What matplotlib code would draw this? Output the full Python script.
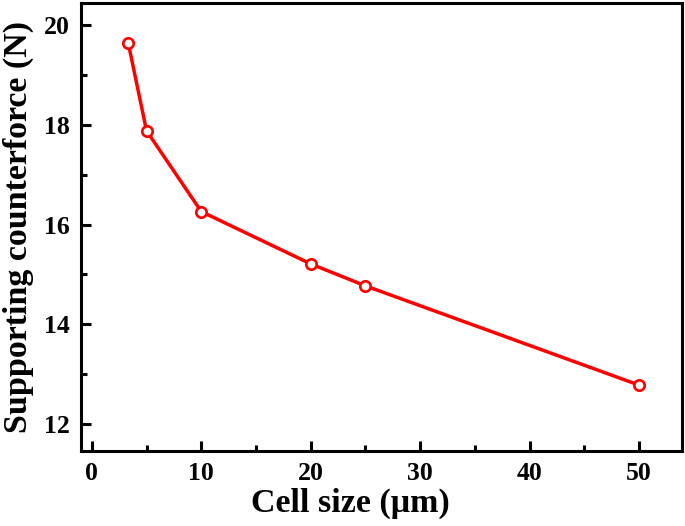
import matplotlib
matplotlib.use("Agg")
import matplotlib.pyplot as plt
from matplotlib.ticker import MultipleLocator

# data
cell_size = [3.33, 5, 10, 20, 25, 50]
counterforce = [19.64, 17.88, 16.26, 15.21, 14.77, 12.78]

plt.rcParams['font.family'] = ['Liberation Serif', 'DejaVu Serif']
plt.rcParams['font.weight'] = 'bold'

fig = plt.figure(figsize=(6.85, 5.26), dpi=100)
ax = fig.add_axes([0.118, 0.1426, 0.8774, 0.8517])

ax.plot(cell_size, counterforce, color='red', lw=2.5, marker='o', ms=7.5,
        mfc='white', mec='red', mew=1.9)

ax.set_xlim(-1.0, 53.9)
ax.set_ylim(11.46, 20.44)
ax.xaxis.set_major_locator(MultipleLocator(10))
ax.xaxis.set_minor_locator(MultipleLocator(5))
ax.yaxis.set_major_locator(MultipleLocator(2))
ax.yaxis.set_minor_locator(MultipleLocator(1))

for s in ax.spines.values():
    s.set_linewidth(2.2)
ax.tick_params(which='both', direction='in', width=2.2, labelsize=18.5, pad=8)
ax.tick_params(which='major', length=7)
ax.tick_params(which='minor', length=4)
for lab in ax.get_xticklabels() + ax.get_yticklabels():
    lab.set_fontweight('bold')

ax.set_xlabel('Cell size (μm)', fontsize=24.5, fontweight='bold')
ax.set_ylabel('Supporting counterforce (N)', fontsize=24.5, fontweight='bold')
ax.xaxis.set_label_coords(0.448, -0.082)
ax.yaxis.set_label_coords(-0.078, 0.5)

fig.savefig('out.png', dpi=100)
